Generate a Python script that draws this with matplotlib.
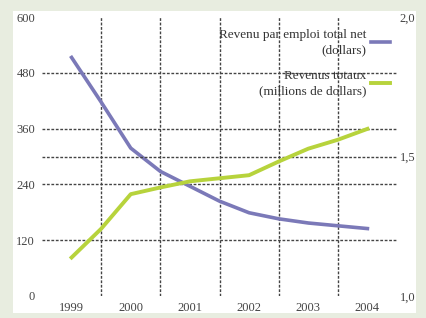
import matplotlib
matplotlib.use("Agg")
import matplotlib.pyplot as plt
from matplotlib.patches import Rectangle

# data (half-year steps)
years = ["1999", "2000", "2001", "2002", "2003", "2004"]
x_pos = [0, 0.5, 1, 1.5, 2, 2.5, 3, 3.5, 4, 4.5, 5]
revenu_emploi = [513, 417, 318, 268, 236, 204, 179, 166, 157, 151, 145]
revenu_total = [1.138, 1.241, 1.365, 1.389, 1.411, 1.422, 1.433, 1.482, 1.528, 1.560, 1.599]

left_ticks = [0, 120, 240, 360, 480, 600]
right_ticks = [1.0, 1.5, 2.0]
right_labels = ["1,0", "1,5", "2,0"]

label_emploi = "Revenu par emploi total net\n(dollars)"
label_total = "Revenus totaux\n(millions de dollars)"

plt.rcParams["font.family"] = ["Liberation Serif", "DejaVu Serif"]

fig = plt.figure(figsize=(4.26, 3.18), dpi=100)
fig.patch.set_facecolor("#e8ede0")
fig.add_artist(Rectangle((13 / 426, 1 - 313 / 318), 403 / 426, 302 / 318,
                         transform=fig.transFigure, facecolor="white",
                         edgecolor="none", zorder=0))

ax = fig.add_axes([42 / 426, 1 - 296 / 318, 355 / 426, 279 / 318])
ax.set_facecolor("none")
ax2 = ax.twinx()

grid_kw = dict(color="#444444", linestyle=(0, (2, 1.2)), linewidth=1.0, zorder=1)
for v in left_ticks[1:-1]:
    ax.axhline(v, **grid_kw)
ax2.axhline(right_ticks[1], **grid_kw)
for i in range(len(years) - 1):
    ax.axvline(i + 0.5, **grid_kw)

l1, = ax.plot(x_pos, revenu_emploi, color="#7b79b8", linewidth=2.6,
              label=label_emploi, zorder=3)
l2, = ax2.plot(x_pos, revenu_total, color="#b7d33c", linewidth=2.8,
               label=label_total, zorder=3)

ax.set_xlim(-0.5, 5.5)
ax.set_ylim(0, 600)
ax2.set_ylim(1.0, 2.0)
ax.set_xticks(range(len(years)))
ax.set_xticklabels(years)
ax.set_yticks(left_ticks)
ax2.set_yticks(right_ticks)
ax2.set_yticklabels(right_labels)

for a in (ax, ax2):
    for s in a.spines.values():
        s.set_visible(False)
ax.tick_params(axis="both", length=0, labelsize=9, colors="#444444")
ax.tick_params(axis="y", pad=5)
ax.tick_params(axis="x", pad=4)
ax2.tick_params(axis="y", length=0, labelsize=9, colors="#444444", pad=2)

leg = ax2.legend(handles=[l1, l2], loc="upper right", bbox_to_anchor=(1.015, 1.0),
                 frameon=False, markerfirst=False, fontsize=9.5,
                 handlelength=1.5, handletextpad=0.3, labelspacing=1.05)
for t in leg.get_texts():
    t.set_multialignment("right")
    t.set_linespacing(1.35)
    t.set_color("#333333")

fig.savefig("out.png", dpi=100, facecolor=fig.get_facecolor())
